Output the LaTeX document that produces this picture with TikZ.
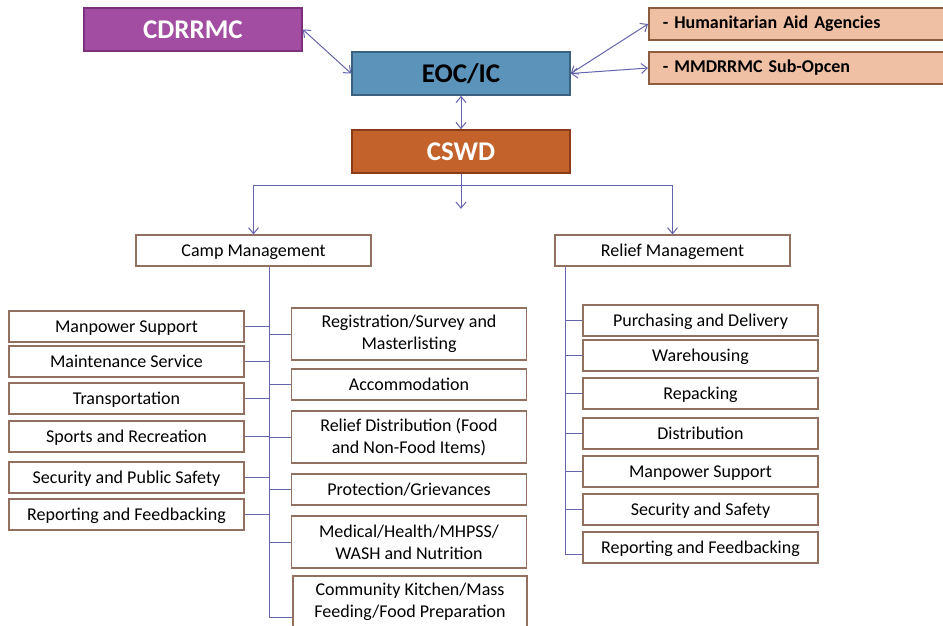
\documentclass[tikz,border=0pt]{standalone}
\usepackage{fontspec}
\setmainfont{Carlito}
\usepackage{xcolor}
\usetikzlibrary{arrows.meta, positioning}

\definecolor{cdrrmcfill}{RGB}{162,77,162}
\definecolor{cdrrmcline}{RGB}{122,48,122}
\definecolor{eocfill}{RGB}{91,147,187}
\definecolor{eocline}{RGB}{58,98,128}
\definecolor{cswdfill}{RGB}{196,98,44}
\definecolor{cswdline}{RGB}{138,60,24}
\definecolor{partfill}{RGB}{240,192,164}
\definecolor{partline}{RGB}{140,92,62}
\definecolor{taskline}{RGB}{145,112,96}
\definecolor{linkcol}{RGB}{100,100,172}

\begin{document}
\begin{tikzpicture}[x=1pt, y=-1pt,
    headbox/.style={draw, line width=1.6pt, minimum width=218pt, minimum height=43pt, inner sep=1pt, font=\fontsize{27}{30}\selectfont\bfseries},
    partbox/.style={draw=partline, fill=partfill, line width=1.6pt, anchor=west, minimum height=32pt, inner xsep=14pt, text width=270pt, align=left, font=\fontsize{18}{21}\selectfont\bfseries},
    basebox/.style={draw=taskline, fill=white, line width=1.2pt, minimum width=235pt, inner sep=2pt, align=center, font=\fontsize{18}{22}\selectfont},
    taskbox/.style={basebox, minimum height=31pt, text height=12.5pt, text depth=1.5pt},
    tallbox/.style={basebox, minimum height=52pt},
    link/.style={draw=linkcol, line width=1pt},
    twoway/.style={link, {Straight Barb[length=6pt,width=10pt]}-{Straight Barb[length=6pt,width=10pt]}},
    oneway/.style={link, -{Straight Barb[length=6pt,width=10pt]}},
    ]
    \useasboundingbox (0,0) rectangle (943,625);
    \clip (0,0) rectangle (943,625);

    % command level
    \node[headbox, fill=cdrrmcfill, draw=cdrrmcline, text=white] (cdrrmc) at (193,29.5) {CDRRMC};
    \node[headbox, fill=eocfill, draw=eocline] (eoc) at (461,73.5) {EOC/IC};
    \node[headbox, fill=cswdfill, draw=cswdline, text=white] (cswd) at (461,151.5) {CSWD};

    % partners on the right
    \node[partbox] (aid) at (648,24) {- Humanitarian Aid Agencies};
    \node[partbox] (opcen) at (648,68) {- MMDRRMC Sub-Opcen};

    % two management branches
    \node[taskbox] (camp) at (253.5,250.5) {Camp Management};
    \node[taskbox] (relief) at (672.5,250.5) {Relief Management};

    % camp management, left column
    \node[taskbox] (cl1) at (126.5,326.5) {Manpower Support};
    \node[taskbox] (cl2) at (126.5,361.5) {Maintenance Service};
    \node[taskbox] (cl3) at (126.5,398.5) {Transportation};
    \node[taskbox] (cl4) at (126.5,436.5) {Sports and Recreation};
    \node[taskbox] (cl5) at (126.5,477.5) {Security and Public Safety};
    \node[taskbox] (cl6) at (126.5,514.5) {Reporting and Feedbacking};

    % camp management, right column
    \node[tallbox] (cr1) at (409,334) {Registration/Survey and\\Masterlisting};
    \node[taskbox] (cr2) at (409,384.5) {Accommodation};
    \node[tallbox] (cr3) at (409,437) {Relief Distribution (Food\\and Non-Food Items)};
    \node[taskbox] (cr4) at (409,489.5) {Protection/Grievances};
    \node[tallbox] (cr5) at (409,542) {Medical/Health/MHPSS/\\WASH and Nutrition};
    \node[tallbox, minimum width=234pt] (cr6) at (410,602) {Community Kitchen/Mass\\Feeding/Food Preparation};

    % relief management column
    \node[taskbox] (rl1) at (700.5,320.5) {Purchasing and Delivery};
    \node[taskbox] (rl2) at (700.5,355.5) {Warehousing};
    \node[taskbox] (rl3) at (700.5,393.5) {Repacking};
    \node[taskbox] (rl4) at (700.5,433.5) {Distribution};
    \node[taskbox] (rl5) at (700.5,471.5) {Manpower Support};
    \node[taskbox] (rl6) at (700.5,509.5) {Security and Safety};
    \node[taskbox] (rl7) at (700.5,547.5) {Reporting and Feedbacking};

    % arrows between the command boxes
    \draw[twoway] (cdrrmc.east) -- (eoc.west);
    \draw[twoway] (eoc.east) -- (aid.west);
    \draw[twoway] (eoc.east) -- (opcen.west);
    \draw[twoway] (eoc.south) -- (cswd.north);

    % CSWD split to both branches
    \coordinate (split) at ([yshift=-12pt]cswd.south);
    \coordinate (midtip) at ([yshift=-35pt]cswd.south);
    \draw[link] (cswd.south) -- (split);
    \draw[oneway] (split) -| (camp.north);
    \draw[oneway] (split) -| (relief.north);
    \draw[oneway] (split) -- (midtip);

    % camp trunk and its branches
    \coordinate (camptrunk) at ([xshift=15.5pt]camp.south);
    \draw[link] (camptrunk) |- ([yshift=-15pt]cr6.west);
    \draw[link] (cl1.east) -- (cl1.east -| camptrunk);
    \draw[link] (cl2.east) -- (cl2.east -| camptrunk);
    \draw[link] (cl3.east) -- (cl3.east -| camptrunk);
    \draw[link] (cl4.east) -- (cl4.east -| camptrunk);
    \draw[link] (cl5.east) -- (cl5.east -| camptrunk);
    \draw[link] (cl6.east) -- (cl6.east -| camptrunk);
    \draw[link] (cr1.west) -- (cr1.west -| camptrunk);
    \draw[link] (cr2.west) -- (cr2.west -| camptrunk);
    \draw[link] (cr3.west) -- (cr3.west -| camptrunk);
    \draw[link] (cr4.west) -- (cr4.west -| camptrunk);
    \draw[link] (cr5.west) -- (cr5.west -| camptrunk);

    % relief trunk and its branches
    \coordinate (relieftrunk) at ([xshift=-107.5pt]relief.south);
    \draw[link] (relieftrunk) |- ([yshift=-7pt]rl7.west);
    \draw[link] (rl1.west) -- (rl1.west -| relieftrunk);
    \draw[link] (rl2.west) -- (rl2.west -| relieftrunk);
    \draw[link] (rl3.west) -- (rl3.west -| relieftrunk);
    \draw[link] (rl4.west) -- (rl4.west -| relieftrunk);
    \draw[link] (rl5.west) -- (rl5.west -| relieftrunk);
    \draw[link] (rl6.west) -- (rl6.west -| relieftrunk);
\end{tikzpicture}
\end{document}
